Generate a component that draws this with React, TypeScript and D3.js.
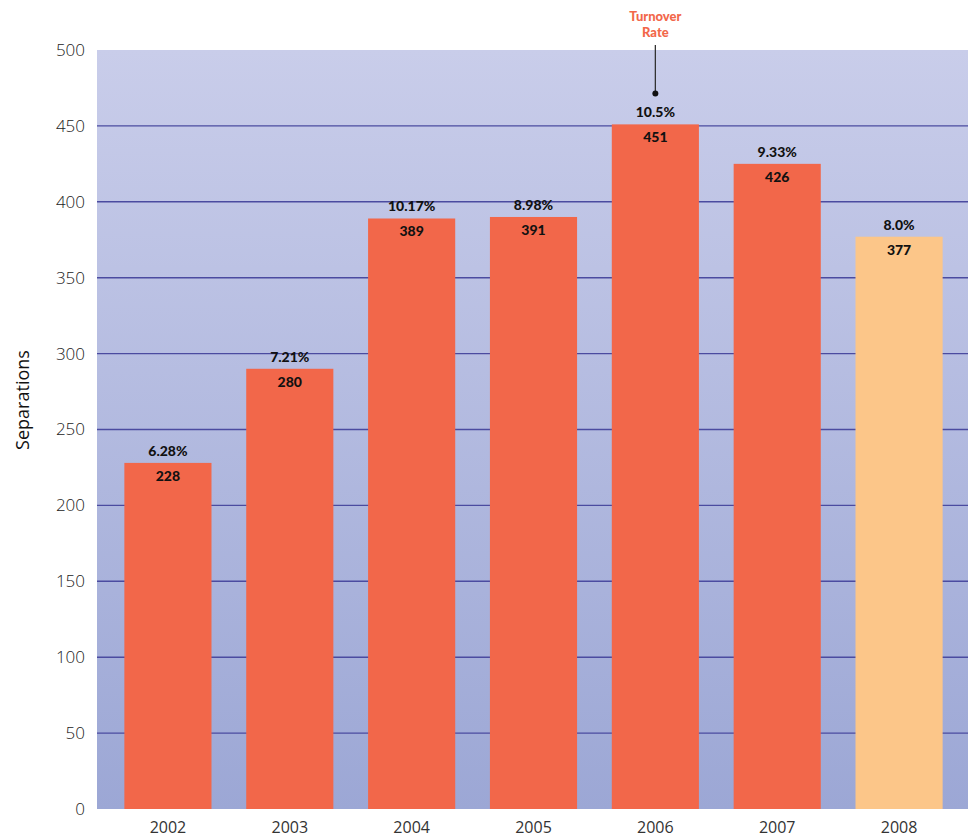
import React, { useRef, useEffect } from 'react';
import * as d3 from 'd3';

const years = ['2002', '2003', '2004', '2005', '2006', '2007', '2008'];
const separations = [228, 290, 389, 390, 451, 425, 377];
const valueLabels = ['228', '280', '389', '391', '451', '426', '377'];
const turnoverRates = ['6.28%', '7.21%', '10.17%', '8.98%', '10.5%', '9.33%', '8.0%'];
const yTicks = [0, 50, 100, 150, 200, 250, 300, 350, 400, 450, 500];

const App = () => {
    const ref = useRef<HTMLDivElement>(null);

    useEffect(() => {
        const width = 972;
        const height = 838;
        const marginTop = 50;
        const marginRight = 4;
        const marginBottom = 29;
        const marginLeft = 97;

        const x = d3.scaleBand(years, [marginLeft + 10, width - marginRight - 8])
            .paddingInner(0.285)
            .paddingOuter(0.1425);
        const y = d3.scaleLinear([0, 500], [height - marginBottom, marginTop]);

        const svg = d3.create('svg')
            .attr('width', width)
            .attr('height', height)
            .attr('viewBox', [0, 0, width, height])
            .style('display', 'block')
            .style('position', 'absolute')
            .style('left', 0)
            .style('top', 0);

        const grad = svg.append('defs').append('linearGradient')
            .attr('id', 'bg')
            .attr('x1', 0).attr('y1', 0).attr('x2', 0).attr('y2', 1);
        grad.append('stop').attr('offset', '0%').attr('stop-color', '#c9cdea');
        grad.append('stop').attr('offset', '100%').attr('stop-color', '#9ca7d5');

        svg.append('rect')
            .attr('x', marginLeft)
            .attr('y', marginTop)
            .attr('width', width - marginLeft - marginRight)
            .attr('height', y(0) - marginTop)
            .attr('fill', 'url(#bg)');

        // grid
        svg.append('g')
            .selectAll('line')
            .data(yTicks.filter(d => d > 0 && d < 500))
            .join('line')
            .attr('x1', marginLeft)
            .attr('x2', width - marginRight)
            .attr('y1', d => y(d))
            .attr('y2', d => y(d))
            .attr('stroke', '#4b4ba0')
            .attr('stroke-width', 1.4);

        // y tick labels
        svg.append('g')
            .selectAll('text')
            .data(yTicks)
            .join('text')
            .attr('x', marginLeft - 12)
            .attr('y', d => y(d))
            .attr('dy', '0.35em')
            .attr('text-anchor', 'end')
            .attr('font-family', 'Open Sans, sans-serif')
            .attr('font-weight', 300)
            .attr('font-size', 17)
            .attr('fill', '#222')
            .text(d => d);

        svg.append('text')
            .attr('transform', `translate(29,400) rotate(-90)`)
            .attr('text-anchor', 'middle')
            .attr('font-family', 'Open Sans, sans-serif')
            .attr('font-size', 18)
            .attr('fill', '#111')
            .text('Separations');

        // bars
        svg.append('g')
            .selectAll('rect')
            .data(years)
            .join('rect')
            .attr('x', d => x(d)!)
            .attr('width', x.bandwidth())
            .attr('y', (d, i) => y(separations[i]))
            .attr('height', (d, i) => y(0) - y(separations[i]))
            .attr('fill', d => d === '2008' ? '#fcc689' : '#f2674a');

        // x labels
        svg.append('g')
            .selectAll('text')
            .data(years)
            .join('text')
            .attr('x', d => x(d)! + x.bandwidth() / 2)
            .attr('y', y(0) + 24)
            .attr('text-anchor', 'middle')
            .attr('font-family', 'Open Sans, sans-serif')
            .attr('font-size', 16)
            .attr('fill', '#333')
            .text(d => d);

        const labelFont = 'Lato, sans-serif';

        svg.append('g')
            .selectAll('text')
            .data(years)
            .join('text')
            .attr('x', d => x(d)! + x.bandwidth() / 2)
            .attr('y', (d, i) => y(separations[i]) - 7)
            .attr('text-anchor', 'middle')
            .attr('font-family', labelFont)
            .attr('font-weight', 900)
            .attr('font-size', 14)
            .attr('fill', '#111')
            .text((d, i) => turnoverRates[i]);

        svg.append('g')
            .selectAll('text')
            .data(years)
            .join('text')
            .attr('x', d => x(d)! + x.bandwidth() / 2)
            .attr('y', (d, i) => y(separations[i]) + 18)
            .attr('text-anchor', 'middle')
            .attr('font-family', labelFont)
            .attr('font-weight', 900)
            .attr('font-size', 14)
            .attr('fill', '#111')
            .text((d, i) => valueLabels[i]);

        // annotation for 2006
        const ax = x('2006')! + x.bandwidth() / 2;
        const ay = y(separations[4]) - 31;
        svg.append('line')
            .attr('x1', ax).attr('x2', ax)
            .attr('y1', 45).attr('y2', ay)
            .attr('stroke', '#333')
            .attr('stroke-width', 1.3);
        svg.append('circle')
            .attr('cx', ax).attr('cy', ay)
            .attr('r', 3)
            .attr('fill', '#111');
        svg.append('text')
            .attr('x', ax)
            .attr('y', 21)
            .attr('text-anchor', 'middle')
            .attr('font-family', labelFont)
            .attr('font-weight', 900)
            .attr('font-size', 13)
            .attr('fill', '#f2674a')
            .call(t => t.append('tspan').attr('x', ax).attr('dy', 0).text('Turnover'))
            .call(t => t.append('tspan').attr('x', ax).attr('dy', 16).text('Rate'));

        ref.current!.appendChild(svg.node()!);
        return () => {
            if (ref.current) ref.current.innerHTML = '';
        };
    }, []);

    return <div ref={ref}></div>;
};

export default App;
